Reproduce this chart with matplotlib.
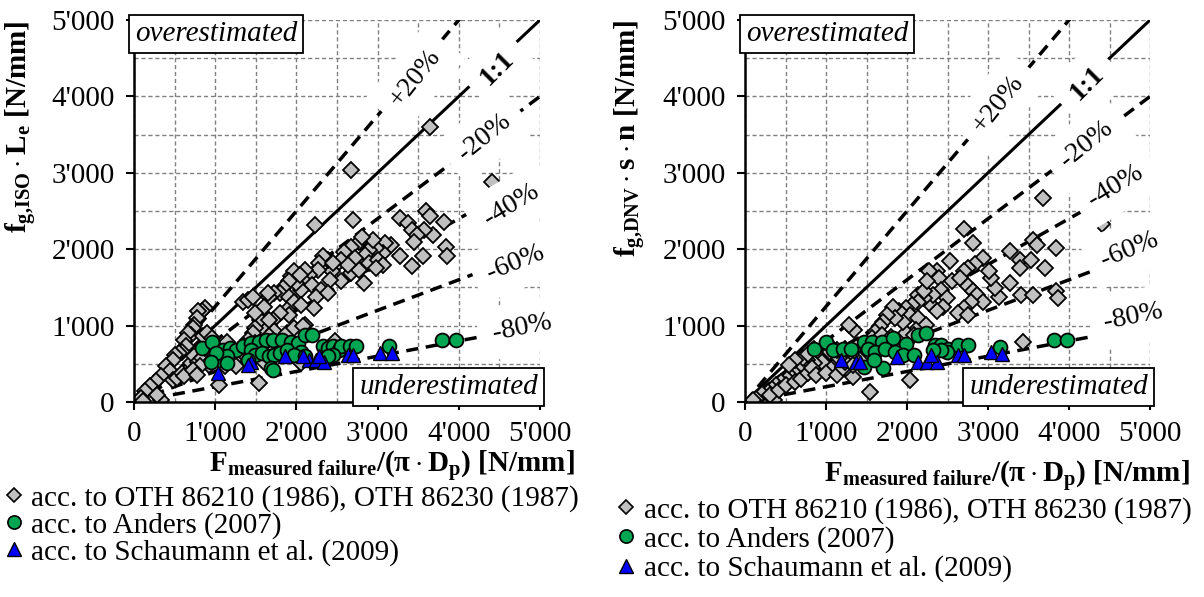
import matplotlib
matplotlib.use('Agg')
import matplotlib.pyplot as plt
import numpy as np
from matplotlib.ticker import MultipleLocator, FuncFormatter
from matplotlib.lines import Line2D

plt.rcParams['font.family'] = ['Liberation Serif', 'DejaVu Serif']
plt.rcParams['mathtext.fontset'] = 'custom'
plt.rcParams['mathtext.rm'] = 'Liberation Serif:bold'
plt.rcParams['mathtext.bf'] = 'Liberation Serif:bold'
plt.rcParams['mathtext.it'] = 'Liberation Serif:bold'
plt.rcParams['mathtext.default'] = 'bf'

# ---- data (N/mm) ----
# left: f_g,ISO * L_e
iso_oth_x = [3640, 2675, 4410, 2235, 2700, 3600, 3640, 3815, 3685, 3575, 3270, 3380, 3420, 3485,
             3445, 3555, 3420, 3270, 3840, 3860, 3160, 3090, 3070, 2980, 2895, 2850, 2810, 2940,
             2765, 2810, 2675, 2590, 2545, 2480, 2435, 2545, 2675, 2765, 2830, 2720, 2895, 3005,
             3070, 2980, 2630, 2390, 2325, 2280, 2260, 2150, 2105, 2085, 2195, 2305, 2410, 2455,
             2240, 2390, 2215, 2060, 1995, 1930, 1975, 2040, 1910, 1840, 1800, 1730, 1910, 1975,
             2060, 1665, 1885, 1910, 1800, 1710, 1645, 1600, 1665, 1600, 1730, 1555, 1490, 1470,
             1405, 1360, 1490, 1665, 1755, 1885, 1975, 2105, 1490, 1665, 1340, 1405, 1470, 875,
             835, 790, 770, 745, 725, 700, 660, 615, 635, 590, 550, 505, 480, 395, 440, 330, 265,
             200, 130, 90, 110, 330, 285, 480, 525, 590, 615, 700, 745, 790, 835, 875, 855, 900,
             965, 1010, 1050, 1075, 1120, 965, 920, 810, 725, 770, 1050, 1140, 1185, 1230, 1250,
             1425, 1490, 1580, 1600, 1535, 2060, 2085, 2480]
iso_oth_y = [3605, 3040, 2885, 2320, 2385, 2495, 2430, 2350, 2190, 2255, 2405, 2340, 2255, 2190,
             2100, 1905, 1775, 1905, 2035, 1905, 2060, 2080, 1950, 2015, 1990, 1925, 1775, 2125,
             2100, 2165, 2035, 1970, 1860, 1775, 1710, 1580, 1685, 1730, 1555, 1885, 1820, 1860,
             1795, 1755, 1795, 1860, 1905, 1820, 1730, 1665, 1730, 1600, 1535, 1470, 1600, 1820,
             1380, 1425, 1230, 1470, 1555, 1645, 1710, 1665, 1580, 1490, 1425, 1425, 1380, 1315,
             1275, 1380, 1205, 1140, 1165, 1075, 1425, 1250, 1010, 945, 925, 1075, 970, 900,
             815, 730, 770, 860, 770, 900, 970, 1010, 1165, 1075, 1315, 1340, 1380, 1230,
             1185, 1185, 1100, 1010, 970, 880, 900, 815, 730, 660, 640, 620, 555, 465, 400, 335, 270,
             205, 140, 50, 10, 30, 95, 290, 315, 380, 335, 510, 600, 530, 575, 705, 860, 900,
             835, 730, 640, 555, 465, 555, 490, 465, 425, 355, 225, 790, 640, 555, 465,
             530, 620, 730, 530, 250, 510, 990, 795]
iso_anders_x = [835, 965, 1095, 1185, 1250, 1340, 1445, 1535, 1620, 1710, 1820, 1930, 2020, 2105,
                2195, 1445, 1490, 1580, 1665, 1730, 1800, 1885, 2060, 1975, 2105, 1050, 1140, 1405,
                1690, 1710, 2325, 2390, 2455, 2520, 2545, 2655, 2740, 3135, 3795, 3970, 2455, 2390,
                1010, 945, 1140]
iso_anders_y = [705, 790, 685, 705, 685, 730, 770, 790, 815, 815, 815, 790, 770, 880,
                880, 685, 620, 640, 600, 620, 640, 685, 660, 620, 600, 555, 600, 555,
                445, 420, 730, 705, 730, 685, 730, 730, 730, 730, 815, 815, 620, 600,
                640, 530, 510]
iso_schau_x = [1030, 1445, 1865, 2150, 2240, 2345, 2630, 2700, 3025, 3180, 1405, 2280, 2085]
iso_schau_y = [380, 530, 600, 555, 555, 530, 620, 620, 640, 640, 490, 600, 600]

# right: f_g,DNV * s * n
dnv_oth_x = [3675, 2700, 2820, 4410, 3840, 3700, 3555, 3600, 3270, 3390, 3390, 3530, 3410, 3555,
             3840, 3865, 3270, 3130, 3080, 3035, 3010, 2940, 2845, 2750, 2700, 2535, 2370, 2275,
             2395, 2420, 2560, 2655, 2750, 2820, 2865, 2940, 2795, 2700, 2630, 2750, 2490, 2440,
             2370, 2275, 2325, 2205, 2135, 2205, 2250, 2135, 2060, 1990, 2040, 2135, 2230, 2110,
             1990, 2085, 1945, 1895, 1825, 1850, 1755, 1705, 1660, 1610, 1565, 1515, 1470, 1420,
             1350, 1280, 1230, 1305, 1685, 1800, 1850, 1945, 2040, 1540, 1330, 3435, 855, 925,
             1045, 1115, 1045, 950, 855, 760, 710, 665, 595, 545, 520, 450, 380, 330, 285, 215,
             140, 95, 355, 310, 425, 500, 615, 690, 780, 830, 880, 995, 1140, 1210, 1230, 1160,
             1330, 710, 780, 615, 545, 1140, 1065]
dnv_oth_y = [2675, 2260, 2085, 2325, 2020, 1755, 2125, 2060, 1975, 1865, 1755, 1865, 1405, 1405,
             1450, 1360, 1555, 1380, 1490, 1625, 1710, 1885, 1800, 1755, 1710, 1840, 1710, 1710,
             1625, 1470, 1580, 1625, 1515, 1450, 1405, 1315, 1315, 1230, 1160, 1140, 1360, 1250,
             1185, 1295, 1405, 1360, 1405, 1450, 1580, 1315, 1270, 1230, 1140, 1095, 1010, 945,
             900, 875, 1050, 1185, 1250, 1095, 1140, 1050, 990, 920, 835, 700, 615, 550,
             945, 1010, 700, 615, 875, 855, 790, 725, 285, 130, 330, 790, 700, 615,
             660, 480, 440, 525, 505, 550, 480, 440, 395, 350, 305, 265, 220, 175, 130, 110,
             45, 20, 20, 90, 155, 220, 265, 305, 375, 440, 350, 375, 350, 440, 525, 570,
             480, 570, 635, 550, 480, 680, 725]
dnv_anders_x = [995, 855, 1090, 1210, 1305, 1470, 1565, 1685, 1825, 1990, 2135, 2230, 1515, 1610,
                1730, 1850, 1945, 2085, 2345, 2420, 2510, 2630, 2750, 2490, 2420, 3150, 3815, 3980,
                1705, 1470, 2320, 1590]
dnv_anders_y = [790, 700, 680, 700, 700, 790, 790, 790, 835, 765, 875, 900, 700, 660,
                700, 660, 615, 615, 745, 745, 700, 745, 745, 660, 680, 725, 810, 810,
                440, 460, 680, 550]
dnv_schau_x = [1185, 1375, 1420, 1870, 2135, 2250, 2370, 2300, 2630, 2700, 3035, 3175]
dnv_schau_y = [550, 525, 525, 590, 525, 525, 525, 615, 615, 615, 660, 635]

ratios = [1.25, 1.0, 0.8, 0.6, 0.4, 0.2]
ratio_labels = ['+20%', '1:1', '-20%', '-40%', '-60%', '-80%']
legend_labels = ['acc. to OTH 86210 (1986), OTH 86230 (1987)',
                 'acc. to Anders (2007)',
                 'acc. to Schaumann et al. (2009)']

gray = '#c0c0c0'
green = '#00a651'
blue = '#0000ff'
FS = 21


def thousands(v, pos):
    v = int(round(v))
    if v >= 1000:
        return "%d'%03d" % (v // 1000, v % 1000)
    return str(v)


def setup_axes(ax):
    ax.set_xlim(0, 5000)
    ax.set_ylim(0, 5000)
    ax.xaxis.set_major_locator(MultipleLocator(1000))
    ax.yaxis.set_major_locator(MultipleLocator(1000))
    ax.xaxis.set_minor_locator(MultipleLocator(500))
    ax.yaxis.set_minor_locator(MultipleLocator(500))
    ax.xaxis.set_major_formatter(FuncFormatter(thousands))
    ax.yaxis.set_major_formatter(FuncFormatter(thousands))
    ax.grid(which='both', color='#808080', linestyle=(0, (3, 2)), linewidth=1.0)
    ax.tick_params(which='minor', length=0)
    ax.tick_params(which='major', direction='out', length=6, width=1.5,
                   labelsize=FS, pad=8)
    for s in ['top', 'right']:
        ax.spines[s].set_visible(False)
    for s in ['left', 'bottom']:
        ax.spines[s].set_linewidth(1.8)
        ax.spines[s].set_zorder(5)
    ax.set_axisbelow(True)


def draw_lines(ax, label_pos):
    xs = np.array([0, 5000])
    for r, lab, (lx, ly) in zip(ratios, ratio_labels, label_pos):
        if r == 1.0:
            ax.plot(xs, xs * r, color='k', lw=2.2, zorder=2)
        else:
            ax.plot(xs, xs * r, color='k', lw=2.5, ls=(0, (3.5, 2.2)), zorder=2)
        ang = np.degrees(np.arctan(r))
        ax.text(lx, ly, lab, fontsize=FS - 1, rotation=ang, ha='center', va='center',
                fontweight='bold' if lab == '1:1' else 'normal',
                rotation_mode='anchor', zorder=6, clip_on=False,
                bbox=dict(boxstyle='square,pad=0.5', fc='white', ec='none'))


def draw_points(ax, ox, oy, ax_, ay, sx, sy):
    ax.plot(ox, oy, 'D', ms=8.5, mfc=gray, mec='k', mew=1.3, zorder=3)
    ax.plot(ax_, ay, 'o', ms=10, mfc=green, mec='k', mew=1.3, zorder=4)
    ax.plot(sx, sy, '^', ms=10, mfc=blue, mec='k', mew=1.0, zorder=4)


def boxes(ax):
    ax.text(0.003, 0.997, 'overestimated', transform=ax.transAxes, fontsize=FS,
            style='italic', ha='left', va='top', zorder=7,
            bbox=dict(boxstyle='square,pad=0.2', fc='white', ec='k', lw=1.3))
    ax.text(0.995, 0.005, 'underestimated', transform=ax.transAxes, fontsize=FS,
            style='italic', ha='right', va='bottom', zorder=7,
            bbox=dict(boxstyle='square,pad=0.2', fc='white', ec='k', lw=1.3))


def legend(fig, x, y, spacing):
    h = [Line2D([], [], ls='none', marker='D', ms=7.5, mfc=gray, mec='k', mew=1.2),
         Line2D([], [], ls='none', marker='o', ms=9.5, mfc=green, mec='k', mew=1.2),
         Line2D([], [], ls='none', marker='^', ms=9.5, mfc=blue, mec='k', mew=1.0)]
    fig.legend(h, legend_labels, loc='upper left', bbox_to_anchor=(x, y),
               frameon=False, fontsize=FS, handlelength=0.6, handletextpad=0.3,
               labelspacing=spacing, borderpad=0, borderaxespad=0)


fig = plt.figure(figsize=(12.04, 5.97), dpi=100)
ax1 = fig.add_axes([0.1113, 0.3266, 0.3372, 0.6399])
ax2 = fig.add_axes([0.6188, 0.3266, 0.3364, 0.6399])

for ax in (ax1, ax2):
    setup_axes(ax)
    boxes(ax)

draw_points(ax1, iso_oth_x, iso_oth_y, iso_anders_x, iso_anders_y, iso_schau_x, iso_schau_y)
draw_points(ax2, dnv_oth_x, dnv_oth_y, dnv_anders_x, dnv_anders_y, dnv_schau_x, dnv_schau_y)

draw_lines(ax1, [(3465, 4240), (4470, 4370), (4320, 3470), (4650, 2580), (4695, 1820), (4780, 970)])
draw_lines(ax2, [(3130, 3905), (4220, 4165), (4220, 3375), (4575, 2830), (4740, 1995), (4790, 1120)])

xlab = r'$F_{measured\ failure}$/($\pi\cdot D_p$) [N/mm]'
ax1.set_ylabel(r'$f_{g{,}ISO}\cdot L_e$ [N/mm]', fontsize=FS, fontweight='bold', loc='top')
ax1.yaxis.set_label_coords(-0.235, 1.0)
ax2.set_ylabel(r'$f_{g{,}DNV}\cdot s\cdot n$ [N/mm]', fontsize=FS, fontweight='bold', loc='top')
ax2.yaxis.set_label_coords(-0.24, 1.0)
ax1.set_xlabel(xlab, fontsize=FS, fontweight='bold', loc='right')
ax1.xaxis.set_label_coords(1.086, -0.123)
ax2.set_xlabel(xlab, fontsize=FS, fontweight='bold', loc='right')
ax2.xaxis.set_label_coords(1.099, -0.15)

legend(fig, 0.004, 0.188, 0.0)
legend(fig, 0.513, 0.168, 0.08)

fig.savefig('out.png', dpi=100)
